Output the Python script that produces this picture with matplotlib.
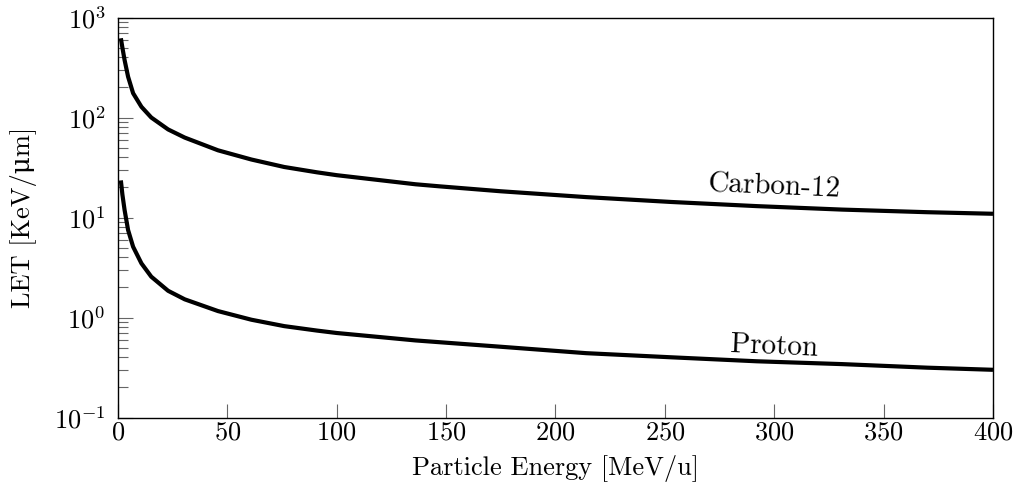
import matplotlib
matplotlib.use("Agg")
import matplotlib.pyplot as plt
from matplotlib.ticker import LogLocator, FixedLocator

# ------------------------------------------------------------
# LET vs particle energy
# ------------------------------------------------------------
carbon_E   = [1.3, 2.0, 3.0, 4.6, 6.9, 10.7, 15.2, 22.9, 30.5, 45.7, 61, 76, 91, 100,
              136, 147, 175, 214, 253, 292, 331, 370, 400]
carbon_LET = [620, 500, 376, 256, 175, 128, 100, 76, 63, 47, 38, 32, 28.3, 26.5,
              21.5, 20.5, 18.3, 16.0, 14.3, 13.0, 12.0, 11.3, 10.9]

proton_E   = [1.3, 2.0, 3.0, 4.6, 6.9, 10.7, 15.2, 22.9, 30.5, 45.7, 61, 76, 91, 100,
              136, 175, 214, 253, 292, 331, 370, 400]
proton_LET = [23.5, 17, 11.9, 7.5, 5.1, 3.48, 2.56, 1.85, 1.52, 1.16, 0.95, 0.82, 0.74, 0.70,
              0.59, 0.51, 0.44, 0.40, 0.365, 0.342, 0.315, 0.30]

x_ticks = [0, 50, 100, 150, 200, 250, 300, 350, 400]

plt.rcParams["font.family"] = ["cmr10", "DejaVu Serif"]
plt.rcParams["mathtext.fontset"] = "cm"
plt.rcParams["axes.formatter.use_mathtext"] = True
plt.rcParams["axes.unicode_minus"] = False

fig = plt.figure(figsize=(10.2, 4.92), dpi=100)
ax = fig.add_axes([0.1157, 0.1514, 0.8578, 0.8130])

ax.plot(carbon_E, carbon_LET, color="black", lw=3, solid_capstyle="butt", solid_joinstyle="round")
ax.plot(proton_E, proton_LET, color="black", lw=3, solid_capstyle="butt", solid_joinstyle="round")

ax.set_yscale("log")
ax.set_xlim(0, 400)
ax.set_ylim(0.1, 1000)

ax.xaxis.set_major_locator(FixedLocator(x_ticks))
ax.yaxis.set_major_locator(LogLocator(base=10, numticks=10))
ax.yaxis.set_minor_locator(LogLocator(base=10, subs=range(2, 10), numticks=20))

ax.tick_params(axis="both", which="both", direction="in", top=False, right=False,
               color="#666666", width=0.8, labelsize=19)
ax.tick_params(axis="x", which="major", length=10, pad=2)
ax.tick_params(axis="y", which="major", length=11, pad=9)
ax.tick_params(axis="y", which="minor", length=7)
ax.yaxis.set_minor_formatter(plt.NullFormatter())

for s in ax.spines.values():
    s.set_linewidth(1.0)

ax.set_xlabel("Particle Energy [MeV/u]", fontsize=19, labelpad=8)
ax.set_ylabel("LET [KeV/\u03bcm]", fontsize=19, labelpad=12)

ax.text(300, 20.2, "Carbon-12", fontsize=21, ha="center", va="center", rotation=-2.5)
ax.text(300, 0.51, "Proton", fontsize=21, ha="center", va="center", rotation=-2.5)

fig.savefig("out.png", dpi=100)
